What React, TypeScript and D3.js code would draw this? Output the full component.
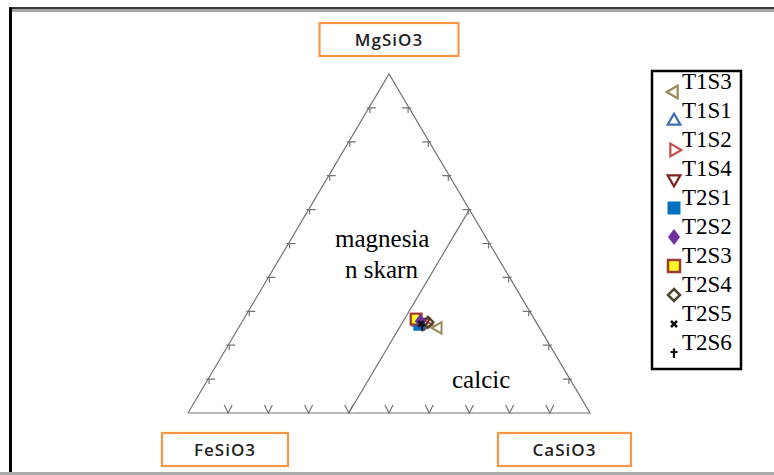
import * as d3 from "d3";

// ternary composition of each sample, in percent (FeSiO3, MgSiO3, CaSiO3)
const seriesNames = ["T1S3", "T1S1", "T1S2", "T1S4", "T2S1", "T2S2", "T2S3", "T2S4", "T2S5", "T2S6"];
const feValues = [25.2, 29.4, 27.8, 27.9, 29.5, 28.7, 29.4, 26.9, 28.9, 28.9];
const mgValues = [25.1, 26.8, 26.0, 26.8, 26.0, 27.1, 27.7, 26.8, 26.3, 25.7];
const caValues = [49.7, 43.8, 46.2, 45.3, 44.5, 44.2, 42.9, 46.3, 44.8, 45.4];

const cornerLabels = ["MgSiO3", "FeSiO3", "CaSiO3"];
const fieldLabels = [["magnesia", "n skarn"], ["calcic"]];
const axisTicks = [10, 20, 30, 40, 50, 60, 70, 80, 90];
// boundary between the magnesian and calcic fields: CaSiO3 = 40 %
const boundaryCa = [40, 40];
const boundaryMg = [0, 60];

type Shape = "tri-left" | "tri-up" | "tri-right" | "tri-down" | "square" | "diamond" | "hatched" | "diamond-open" | "times" | "plus";
const shapes: Shape[] = ["tri-left", "tri-up", "tri-right", "tri-down", "square", "diamond", "hatched", "diamond-open", "times", "plus"];
const colors = ["#948A54", "#3F6FB0", "#C0504D", "#7F2422", "#0070C0", "#7030A0", "#9C3A35", "#4A452A", "#111", "#111"];
// plot order so the cluster stacks like the original (yellow top-left, purple over blue)
const plotOrder = [0, 1, 2, 3, 7, 4, 6, 5, 8, 9];

const W = 774;
const H = 475;

const x = d3.scaleLinear().domain([0, 100]).range([188, 590]);
const y = d3.scaleLinear().domain([0, 100]).range([413, 74]);
const px = (ca: number, mg: number) => x(ca + mg / 2);
const py = (mg: number) => y(mg);

const legendY = d3.scalePoint<string>().domain(seriesNames).range([92, 353]);

function Marker({ shape, color, cx, cy, k = 1 }: { shape: Shape; color: string; cx: number; cy: number; k?: number }) {
  const tri = d3.symbol().type(d3.symbolTriangle).size(70)()!;
  const rot: Record<string, number> = { "tri-left": -90, "tri-up": 0, "tri-right": 90, "tri-down": 180 };
  const t = `translate(${cx},${cy}) scale(${k})`;
  if (shape in rot) {
    return <path d={tri} transform={`${t} rotate(${rot[shape]})`} fill="none" stroke={color} strokeWidth={2.2} />;
  }
  if (shape === "square") {
    return <rect x={-6.5} y={-6.5} width={13} height={13} transform={t} fill={color} />;
  }
  if (shape === "diamond") {
    return <path d="M0,-8L6,0L0,8L-6,0Z" transform={t} fill={color} />;
  }
  if (shape === "hatched") {
    return (
      <g transform={t}>
        <rect x={-6} y={-6} width={12} height={12} fill="#FFFF00" stroke={color} strokeWidth={2.5} />
        <line x1={0} x2={0} y1={-5} y2={5} stroke="#EDE3A0" strokeWidth={1.5} />
      </g>
    );
  }
  if (shape === "diamond-open") {
    return <path d="M0,-6L6,0L0,6L-6,0Z" transform={t} fill="none" stroke={color} strokeWidth={2.5} />;
  }
  if (shape === "times") {
    return <path d="M-3,-3L3,3M3,-3L-3,3" transform={t} stroke={color} strokeWidth={2.5} />;
  }
  return <path d="M-3.5,-1L3.5,-1M0,-4.5L0,5" transform={t} stroke={color} strokeWidth={2.2} />;
}

export default function App() {
  const outline = d3.line<[number, number]>()([
    [px(0, 0), py(0)],
    [px(100, 0), py(0)],
    [px(0, 100), py(100)],
    [px(0, 0), py(0)],
  ])!;
  const boundary = d3
    .line<number>()
    .x((_, i) => px(boundaryCa[i], boundaryMg[i]))
    .y((_, i) => py(boundaryMg[i]))(boundaryCa)!;

  const grey = "#727272";
  const labelFont = "'Open Sans', sans-serif";
  const serif = "'Liberation Serif', 'Times New Roman', Times, serif";

  const boxes = [
    { label: cornerLabels[0], cx: px(0, 100), cy: 39.5, w: 139 },
    { label: cornerLabels[1], cx: 225, cy: 449.5, w: 126 },
    { label: cornerLabels[2], cx: 564.5, cy: 449.5, w: 133 },
  ];

  return (
    <svg width={W} height={H} style={{ position: "absolute", left: 0, top: 0, background: "#fff" }}>
      {/* frame */}
      <rect x={0} y={0} width={W} height={H} fill="#fff" />
      <line x1={9} x2={W} y1={8} y2={8} stroke="#3A3A3A" strokeWidth={2} />
      <line x1={9} x2={W} y1={10.5} y2={10.5} stroke="#A6A6A6" strokeWidth={3} />
      <line x1={10.5} x2={10.5} y1={7} y2={H} stroke="#000" strokeWidth={3} />
      <line x1={0} x2={W} y1={473.5} y2={473.5} stroke="#ABABAB" strokeWidth={3} />

      {/* triangle */}
      <path d={outline} fill="none" stroke={grey} strokeWidth={1.2} />
      <path d={boundary} fill="none" stroke={grey} strokeWidth={1.2} />

      {/* ticks */}
      {axisTicks.map((t) => (
        <g key={t} stroke={grey} strokeWidth={1.2} fill="none">
          <path d={`M${x(t) - 4},${py(0) - 8}L${x(t)},${py(0)}L${x(t) + 4},${py(0) - 8}`} />
          <path d={`M${px(0, t) - 2},${py(t)}H${px(0, t) + 7}M${px(0, t) + 1},${py(t)}V${py(t) + 5}`} />
          <path d={`M${px(100 - t, t) + 2},${py(t)}H${px(100 - t, t) - 7}M${px(100 - t, t) - 1},${py(t)}V${py(t) + 5}`} />
        </g>
      ))}

      {/* field labels */}
      <g style={{ fontFamily: serif }} fontSize={25} fill="#000">
        <text x={335} y={247}>{fieldLabels[0][0]}</text>
        <text x={345} y={278}>{fieldLabels[0][1]}</text>
        <text x={452} y={388}>{fieldLabels[1][0]}</text>
      </g>

      {/* samples */}
      {plotOrder.map((i) => (
        <Marker
          key={seriesNames[i]}
          shape={shapes[i]}
          color={colors[i]}
          cx={px(caValues[i], mgValues[i])}
          cy={py(mgValues[i])}
          k={0.9}
        />
      ))}

      {/* corner labels */}
      {boxes.map((b) => (
        <g key={b.label}>
          <rect x={b.cx - b.w / 2} y={b.cy - 16.5} width={b.w} height={33} fill="#fff" stroke="#F79646" strokeWidth={2.2} />
          <text
            x={b.cx}
            y={b.cy}
            textAnchor="middle"
            dominantBaseline="central"
            style={{ fontFamily: labelFont }}
            fontSize={17}
            fontWeight={600}
            letterSpacing={1}
            fill="#1E1E1E"
          >
            {b.label}
          </text>
        </g>
      ))}

      {/* legend */}
      <rect x={652} y={71} width={89} height={298} fill="#fff" stroke="#000" strokeWidth={2.5} />
      {seriesNames.map((name, i) => (
        <g key={name}>
          <Marker shape={shapes[i]} color={colors[i]} cx={674} cy={legendY(name)!} />
          <text x={682} y={legendY(name)! - 3} style={{ fontFamily: serif }} fontSize={23} fill="#000">
            {name}
          </text>
        </g>
      ))}
    </svg>
  );
}
